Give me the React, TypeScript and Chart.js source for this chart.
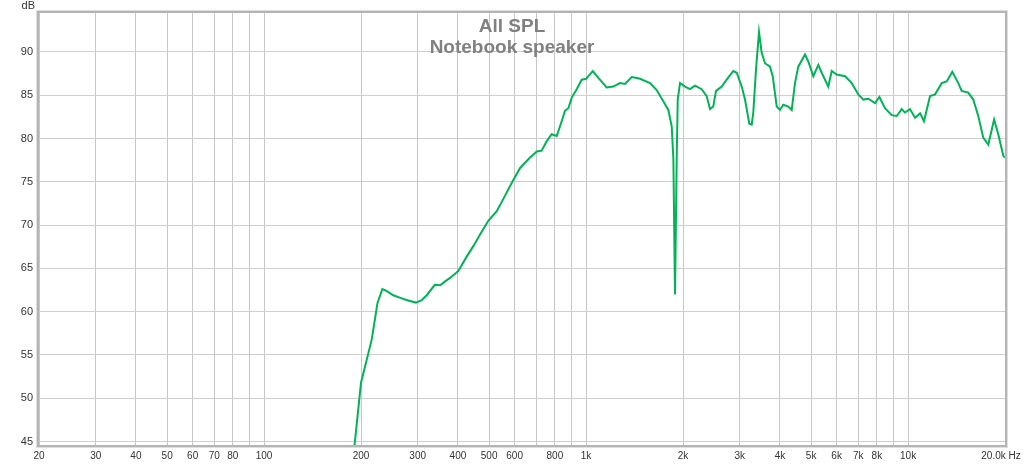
import React, { useEffect, useRef } from "react";
import { Chart, registerables } from "chart.js";

Chart.register(...registerables);

const titleLines = ["All SPL", "Notebook speaker"];
const yUnit = "dB";

const freqs = [
  188, 191, 200, 216, 225, 233, 240, 252, 265, 277, 296, 308, 320, 339, 352, 365, 378, 401, 425, 447,
  470, 497, 528, 553, 588, 624, 646, 670, 703, 728, 755, 782, 811, 840, 860, 881, 902, 935, 969, 1000,
  1049, 1092, 1159, 1215, 1274, 1321, 1386, 1436, 1471, 1580, 1657, 1737, 1801, 1845, 1867, 1889, 1912, 1926, 1958, 2029,
  2103, 2179, 2286, 2369, 2426, 2483, 2533, 2638, 2733, 2866, 2937, 3044, 3116, 3214, 3269, 3306, 3371, 3444, 3511, 3595,
  3726, 3799, 3909, 4001, 4097, 4246, 4351, 4455, 4561, 4785, 4899, 5079, 5264, 5394, 5653, 5793, 6003, 6372, 6685, 7006,
  7262, 7528, 7898, 8145, 8479, 8896, 9220, 9555, 9779, 10140, 10510, 10900, 11205, 11700, 12130, 12720, 13180, 13720, 14320, 14670,
  15380, 15940, 16520, 17120, 17750, 18500, 19060, 19760, 20000,
];

const spl = [
  43.9, 44.6, 51.8, 56.8, 61.0, 62.6, 62.4, 61.9, 61.6, 61.35, 61.05, 61.3, 61.9, 63.1, 63.05, 63.5, 63.9, 64.7, 66.3, 67.6,
  69.0, 70.5, 71.6, 73.0, 74.9, 76.6, 77.2, 77.8, 78.5, 78.6, 79.7, 80.5, 80.3, 82.0, 83.2, 83.5, 84.7, 85.7, 86.8, 86.9,
  87.8, 87.0, 85.9, 86.0, 86.4, 86.3, 87.1, 87.0, 86.9, 86.4, 85.6, 84.3, 83.3, 81.4, 77.6, 62.0, 77.6, 84.5, 86.4, 86.0,
  85.7, 86.1, 85.7, 84.9, 83.4, 83.7, 85.5, 86.0, 86.8, 87.8, 87.6, 86.0, 84.5, 81.7, 81.6, 83.0, 88.0, 92.3, 89.9, 88.7,
  88.3, 87.2, 83.7, 83.3, 83.9, 83.7, 83.3, 86.4, 88.3, 89.7, 88.9, 87.2, 88.5, 87.6, 86.0, 87.8, 87.4, 87.2, 86.4, 85.1,
  84.5, 84.6, 84.1, 84.8, 83.5, 82.7, 82.6, 83.4, 83.0, 83.4, 82.4, 82.9, 82.0, 84.9, 85.1, 86.4, 86.6, 87.7, 86.4, 85.5,
  85.3, 84.5, 82.6, 80.1, 79.3, 82.2, 80.5, 78.0, 77.8,
];

const xTickValues = [
  20, 30, 40, 50, 60, 70, 80, 90, 100, 200, 300, 400, 500, 600, 700, 800, 900, 1000,
  2000, 3000, 4000, 5000, 6000, 7000, 8000, 9000, 10000, 20000,
];
const xTickLabels = [
  "20", "30", "40", "50", "60", "70", "80", "", "100", "200", "300", "400", "500", "600", "", "800", "", "1k",
  "2k", "3k", "4k", "5k", "6k", "7k", "8k", "", "10k", "20.0k Hz",
];
const yTickValues = [45, 50, 55, 60, 65, 70, 75, 80, 85, 90];

const FONT = "'Liberation Sans', Arial, sans-serif";

export default function App() {
  const ref = useRef<HTMLCanvasElement | null>(null);

  useEffect(() => {
    if (!ref.current) return;
    const lastIdx = xTickValues.length - 1;
    const framePlugin = {
      id: "frameAndTitle",
      beforeDatasetsDraw(chart: any) {
        const { ctx, chartArea } = chart;
        const cx = (chartArea.left + chartArea.right) / 2 - 10;
        ctx.save();
        ctx.fillStyle = "#808080";
        ctx.font = `bold 19px ${FONT}`;
        ctx.textAlign = "center";
        ctx.textBaseline = "alphabetic";
        ctx.fillText(titleLines[0], cx, 32);
        ctx.fillText(titleLines[1], cx, 53);
        ctx.restore();
      },
      afterDraw(chart: any) {
        const { ctx, chartArea } = chart;
        ctx.save();
        ctx.strokeStyle = "#dedede";
        ctx.lineWidth = 1;
        ctx.strokeRect(chartArea.left - 2.5, chartArea.top - 2.5, chartArea.right - chartArea.left + 5, chartArea.bottom - chartArea.top + 5);
        ctx.strokeStyle = "#b4b4b4";
        ctx.lineWidth = 2;
        ctx.strokeRect(chartArea.left - 1, chartArea.top - 1, chartArea.right - chartArea.left + 2, chartArea.bottom - chartArea.top + 2);
        ctx.fillStyle = "#333333";
        ctx.font = `11px ${FONT}`;
        ctx.textAlign = "right";
        ctx.textBaseline = "top";
        ctx.fillText(yUnit, 35, 0);
        // last x tick label, right-aligned so it stays on the page
        const xs = chart.scales.x;
        const px = xs.getPixelForValue(xTickValues[lastIdx]);
        ctx.font = `10px ${FONT}`;
        ctx.textAlign = "center";
        ctx.textBaseline = "middle";
        ctx.fillText(xTickLabels[lastIdx], px - 4, chartArea.bottom + 11);
        ctx.restore();
      },
    };

    const chart = new Chart(ref.current, {
      type: "line",
      data: {
        datasets: [
          {
            data: freqs.map((f, i) => ({ x: f, y: spl[i] })),
            borderColor: "#00b356",
            borderWidth: 2,
            pointRadius: 0,
            tension: 0,
            fill: false,
          },
        ],
      },
      options: {
        animation: false,
        responsive: true,
        maintainAspectRatio: false,
        layout: { padding: { top: 13, right: 19, left: 0, bottom: 0 } },
        plugins: { legend: { display: false }, tooltip: { enabled: false }, title: { display: false } },
        scales: {
          x: {
            type: "logarithmic",
            min: 20,
            max: 20000,
            afterBuildTicks: (scale: any) => {
              scale.ticks = xTickValues.map((v) => ({ value: v }));
            },
            afterFit: (scale: any) => {
              scale.height = 20;
              scale.paddingLeft = 0;
              scale.paddingRight = 0;
            },
            ticks: {
              autoSkip: false,
              maxRotation: 0,
              minRotation: 0,
              padding: 5,
              color: "#333333",
              font: { family: FONT, size: 10 },
              callback: (value: any) => {
                const idx = xTickValues.indexOf(Number(value));
                if (idx === lastIdx) return "";
                return idx >= 0 ? xTickLabels[idx] : "";
              },
            },
            grid: { color: "#c8c8c8", lineWidth: 1, drawTicks: false },
            border: { display: false },
          },
          y: {
            type: "linear",
            min: 44.6,
            max: 94.5,
            afterBuildTicks: (scale: any) => {
              scale.ticks = yTickValues.map((v) => ({ value: v }));
            },
            afterFit: (scale: any) => {
              scale.width = 39;
            },
            ticks: {
              padding: 6,
              color: "#333333",
              font: { family: FONT, size: 11 },
              callback: (value: any) => String(value),
            },
            grid: { color: "#cfcfcf", lineWidth: 1, drawTicks: false },
            border: { display: false },
          },
        },
      },
      plugins: [framePlugin],
    });
    return () => chart.destroy();
  }, []);

  return (
    <div style={{ position: "absolute", left: 0, top: 0, width: 1024, height: 465, background: "#ffffff" }}>
      <canvas ref={ref} />
    </div>
  );
}
